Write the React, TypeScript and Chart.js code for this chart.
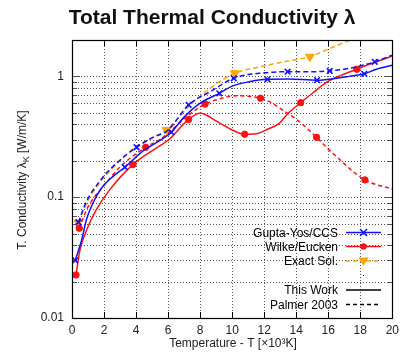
import React, { useEffect, useRef } from 'react';
import { Chart, registerables } from 'chart.js';

Chart.register(...registerables);

// ---- Data ----
const gyThisX = [0.2, 0.6, 0.9, 1.3, 1.9, 2.6, 3.3, 4.5, 5.5, 6.2, 7.0, 8.0, 9.2, 10.0, 11.0, 12.2, 13.5, 15.3, 16.4, 17.3, 18.25, 19.0, 20.0];
const gyThisY = [0.030, 0.044, 0.065, 0.089, 0.122, 0.15, 0.177, 0.245, 0.295, 0.345, 0.46, 0.60, 0.724, 0.83, 0.90, 0.946, 0.95, 0.93, 0.96, 1.0, 1.05, 1.146, 1.236];
const gyThisMarks = [0.2, 3.3, 6.2, 9.2, 12.2, 15.3, 18.25];

const gyPalX = [0.4, 0.9, 1.7, 2.55, 4.03, 5.0, 6.0, 7.28, 8.7, 10.1, 12.0, 13.46, 14.8, 16.09, 17.5, 18.9, 20.0];
const gyPalY = [0.062, 0.092, 0.134, 0.179, 0.259, 0.31, 0.36, 0.58, 0.757, 0.964, 1.07, 1.094, 1.09, 1.11, 1.18, 1.32, 1.50];
const gyPalMarks = [0.4, 4.03, 7.28, 10.1, 13.46, 16.09, 18.9];

const weThisX = [0.25, 0.5, 0.9, 1.5, 2.35, 3.8, 5.4, 6.05, 7.28, 8.0, 9.1, 10.0, 10.78, 11.5, 12.2, 12.85, 13.5, 14.28, 15.1, 15.93, 16.8, 17.78, 19.0, 20.0];
const weThisY = [0.0227, 0.0366, 0.053, 0.078, 0.115, 0.186, 0.262, 0.30, 0.44, 0.495, 0.42, 0.36, 0.332, 0.335, 0.365, 0.40, 0.495, 0.606, 0.74, 0.90, 1.02, 1.146, 1.32, 1.47];
const weThisMarks = [0.25, 3.8, 7.28, 10.78, 14.28, 17.78];

const wePalX = [0.45, 1.0, 2.0, 3.0, 4.6, 5.43, 6.0, 7.3, 8.31, 9.2, 10.2, 11.0, 11.77, 12.5, 13.3, 14.07, 15.27, 16.0, 16.75, 17.5, 18.29, 19.0, 20.0];
const wePalY = [0.0553, 0.083, 0.125, 0.178, 0.259, 0.297, 0.34, 0.48, 0.59, 0.65, 0.69, 0.685, 0.659, 0.60, 0.51, 0.435, 0.313, 0.25, 0.203, 0.165, 0.139, 0.127, 0.117];
const wePalMarks = [0.45, 4.6, 8.31, 11.77, 15.27, 18.29];

const exactX = [0.39, 1.0, 2.0, 3.0, 4.0, 5.0, 5.9, 7.28, 8.2, 9.14, 10.16, 12.0, 13.46, 14.85, 16.0, 17.37, 18.5];
const exactY = [0.0615, 0.094, 0.145, 0.2, 0.262, 0.31, 0.36, 0.56, 0.72, 0.89, 1.06, 1.22, 1.34, 1.455, 1.68, 2.0, 2.3];
const exactMarks = [0.39, 5.9, 10.16, 14.85];

const xTickValues = [0, 2, 4, 6, 8, 10, 12, 14, 16, 18, 20];
const yGridValues = [0.02, 0.03, 0.04, 0.05, 0.06, 0.07, 0.08, 0.09, 0.1, 0.2, 0.3, 0.4, 0.5, 0.6, 0.7, 0.8, 0.9, 1];
const yMajorValues = [0.01, 0.1, 1];

const legendLabels = ['Gupta-Yos/CCS', 'Wilke/Eucken', 'Exact Sol.', '', 'This Work', 'Palmer 2003'];

const BLUE = '#1010ff';
const RED = '#ff1010';
const ORANGE = '#ffa500';
const FONT = '"Liberation Sans", Arial, sans-serif';

function pts(xs: number[], ys: number[]) {
  return xs.map((x, i) => ({ x, y: ys[i] }));
}
function radii(xs: number[], marks: number[], r: number) {
  return xs.map((x) => (marks.includes(x) ? r : 0));
}

function drawMarker(ctx: CanvasRenderingContext2D, kind: string, x: number, y: number, color: string) {
  ctx.save();
  ctx.setLineDash([]);
  ctx.strokeStyle = color;
  ctx.fillStyle = color;
  if (kind === 'cross') {
    ctx.lineWidth = 1.5;
    const r = 3.5;
    ctx.beginPath();
    ctx.moveTo(x - r, y - r); ctx.lineTo(x + r, y + r);
    ctx.moveTo(x - r, y + r); ctx.lineTo(x + r, y - r);
    ctx.stroke();
  } else if (kind === 'circle') {
    ctx.beginPath();
    ctx.arc(x, y, 3.2, 0, Math.PI * 2);
    ctx.fill();
  } else if (kind === 'tri') {
    ctx.beginPath();
    ctx.moveTo(x - 5, y - 3.5);
    ctx.lineTo(x + 5, y - 3.5);
    ctx.lineTo(x, y + 5);
    ctx.closePath();
    ctx.fill();
  }
  ctx.restore();
}

const decorPlugin = {
  id: 'decor',
  beforeDatasetsDraw(chart: any) {
    const { ctx, chartArea: a, scales } = chart;
    const xs = scales.x, ys = scales.y;
    ctx.save();
    ctx.strokeStyle = '#555';
    ctx.lineWidth = 1;
    ctx.setLineDash([1, 2]);
    xTickValues.forEach((v) => {
      if (v <= 0 || v >= 20) return;
      const px = Math.round(xs.getPixelForValue(v)) + 0.5;
      ctx.beginPath(); ctx.moveTo(px, a.top); ctx.lineTo(px, a.bottom); ctx.stroke();
    });
    yGridValues.forEach((v) => {
      const py = Math.round(ys.getPixelForValue(v)) + 0.5;
      ctx.beginPath(); ctx.moveTo(a.left, py); ctx.lineTo(a.right, py); ctx.stroke();
    });
    ctx.setLineDash([]);
    ctx.strokeStyle = '#000';
    xTickValues.forEach((v) => {
      const px = Math.round(xs.getPixelForValue(v)) + 0.5;
      ctx.beginPath();
      ctx.moveTo(px, a.bottom); ctx.lineTo(px, a.bottom - 6);
      ctx.moveTo(px, a.top); ctx.lineTo(px, a.top + 6);
      ctx.stroke();
    });
    ctx.strokeStyle = '#555';
    yGridValues.concat([0.01, 2]).forEach((v) => {
      const py = Math.round(ys.getPixelForValue(v)) + 0.5;
      const len = yMajorValues.includes(v) ? 8 : 5;
      ctx.beginPath();
      ctx.moveTo(a.left, py); ctx.lineTo(a.left + len, py);
      ctx.moveTo(a.right, py); ctx.lineTo(a.right - len, py);
      ctx.stroke();
    });
    ctx.restore();
  },
  afterDraw(chart: any) {
    const { ctx, chartArea: a } = chart;
    ctx.save();
    ctx.strokeStyle = '#000';
    ctx.lineWidth = 1.2;
    ctx.setLineDash([]);
    ctx.strokeRect(Math.round(a.left) + 0.5, Math.round(a.top) + 0.5, Math.round(a.right - a.left), Math.round(a.bottom - a.top));

    // title
    ctx.fillStyle = '#111';
    ctx.font = 'bold 21px ' + FONT;
    ctx.textAlign = 'center';
    ctx.textBaseline = 'alphabetic';
    ctx.fillText('Total Thermal Conductivity λ', 212, 24);

    // x title
    ctx.font = '12px ' + FONT;
    ctx.fillStyle = '#222';
    ctx.textBaseline = 'middle';
    ctx.fillText('Temperature - T [×10³K]', 233, 344);

    // y title with subscript
    ctx.save();
    ctx.translate(22, 180);
    ctx.rotate(-Math.PI / 2);
    const p1 = 'T. Conductivity λ';
    const p2 = 'K';
    const p3 = ' [W/m/K]';
    ctx.font = '12px ' + FONT;
    const w1 = ctx.measureText(p1).width;
    const w3 = ctx.measureText(p3).width;
    ctx.font = '9px ' + FONT;
    const w2 = ctx.measureText(p2).width;
    const total = w1 + w2 + w3;
    const x0 = -total / 2;
    ctx.textAlign = 'left';
    ctx.textBaseline = 'alphabetic';
    ctx.font = '12px ' + FONT;
    ctx.fillText(p1, x0, 4);
    ctx.font = '9px ' + FONT;
    ctx.fillText(p2, x0 + w1, 7);
    ctx.font = '12px ' + FONT;
    ctx.fillText(p3, x0 + w1 + w2, 4);
    ctx.restore();

    // legend
    const rowY = [232.5, 246.5, 261, 275.5, 290, 304.5];
    ctx.font = '12px ' + FONT;
    ctx.textAlign = 'right';
    ctx.textBaseline = 'middle';
    ctx.fillStyle = '#000';
    legendLabels.forEach((t, i) => {
      if (t) ctx.fillText(t, 338, rowY[i] + 1);
    });
    const lx0 = 346, lx1 = 381, lxm = 363.5;
    const seg = (y: number, color: string, dash: number[]) => {
      ctx.save();
      ctx.strokeStyle = color;
      ctx.lineWidth = 1.5;
      ctx.setLineDash(dash);
      ctx.beginPath(); ctx.moveTo(lx0, y); ctx.lineTo(lx1, y); ctx.stroke();
      ctx.restore();
    };
    seg(rowY[0], BLUE, []);
    drawMarker(ctx, 'cross', lxm, rowY[0], BLUE);
    seg(rowY[1], RED, []);
    drawMarker(ctx, 'circle', lxm, rowY[1], RED);
    seg(rowY[2], ORANGE, [4, 3]);
    drawMarker(ctx, 'tri', lxm, rowY[2], ORANGE);
    ctx.fillStyle = '#000';
    ctx.fillRect(lxm - 0.5, rowY[3] - 0.5, 1, 1);
    seg(rowY[4], '#000', []);
    seg(rowY[5], '#000', [4, 3]);
    ctx.restore();
  },
};

function series(label: string, xs: number[], ys: number[], marks: number[], color: string, dash: number[], style: any, r: number, rot: number, order: number) {
  return {
    label,
    data: pts(xs, ys),
    borderColor: color,
    backgroundColor: color,
    borderWidth: 1.5,
    borderDash: dash,
    pointStyle: style,
    pointRadius: radii(xs, marks, r),
    pointHoverRadius: 0,
    pointBorderColor: color,
    pointBackgroundColor: color,
    pointBorderWidth: style === 'crossRot' ? 1.6 : 1,
    pointRotation: rot,
    cubicInterpolationMode: 'monotone',
    fill: false,
    order,
  };
}

export default function App() {
  const ref = useRef<HTMLCanvasElement | null>(null);
  useEffect(() => {
    if (!ref.current) return;
    const chart = new Chart(ref.current, {
      type: 'line',
      data: {
        datasets: [
          series('Gupta-Yos/CCS This Work', gyThisX, gyThisY, gyThisMarks, BLUE, [], 'crossRot', 4, 0, 1),
          series('Gupta-Yos/CCS Palmer 2003', gyPalX, gyPalY, gyPalMarks, BLUE, [5, 3], 'crossRot', 4, 0, 2),
          series('Wilke/Eucken This Work', weThisX, weThisY, weThisMarks, RED, [], 'circle', 3.2, 0, 3),
          series('Wilke/Eucken Palmer 2003', wePalX, wePalY, wePalMarks, RED, [4, 3], 'circle', 3.2, 0, 4),
          series('Exact Sol.', exactX, exactY, exactMarks, ORANGE, [5, 3], 'triangle', 5, 180, 5),
        ] as any,
      },
      options: {
        animation: false,
        responsive: false,
        events: [],
        layout: { padding: { top: 40, right: 8, left: 0, bottom: 0 } },
        plugins: { legend: { display: false }, tooltip: { enabled: false }, title: { display: false } },
        scales: {
          x: {
            type: 'linear',
            min: 0,
            max: 20,
            afterFit: (s: any) => { s.height = 37; },
            afterBuildTicks: (s: any) => { s.ticks = xTickValues.map((v) => ({ value: v })); },
            ticks: { stepSize: 2, padding: 5, color: '#222', font: { family: FONT, size: 12 }, maxRotation: 0 },
            grid: { display: false, drawTicks: false },
            border: { display: false },
          },
          y: {
            type: 'logarithmic',
            min: 0.01,
            max: 2,
            afterFit: (s: any) => { s.width = 72; },
            afterBuildTicks: (s: any) => { s.ticks = yMajorValues.map((v) => ({ value: v, major: true })); },
            ticks: {
              padding: 8,
              color: '#222',
              font: { family: FONT, size: 12 },
              callback: (v: any) => String(v),
            },
            grid: { display: false, drawTicks: false },
            border: { display: false },
          },
        },
      } as any,
      plugins: [decorPlugin],
    });
    return () => chart.destroy();
  }, []);
  return (
    <div style={{ position: 'fixed', left: 0, top: 0, width: 404, height: 355, background: '#fff' }}>
      <canvas ref={ref} width={404} height={355} style={{ width: 404, height: 355, display: 'block' }} />
    </div>
  );
}
